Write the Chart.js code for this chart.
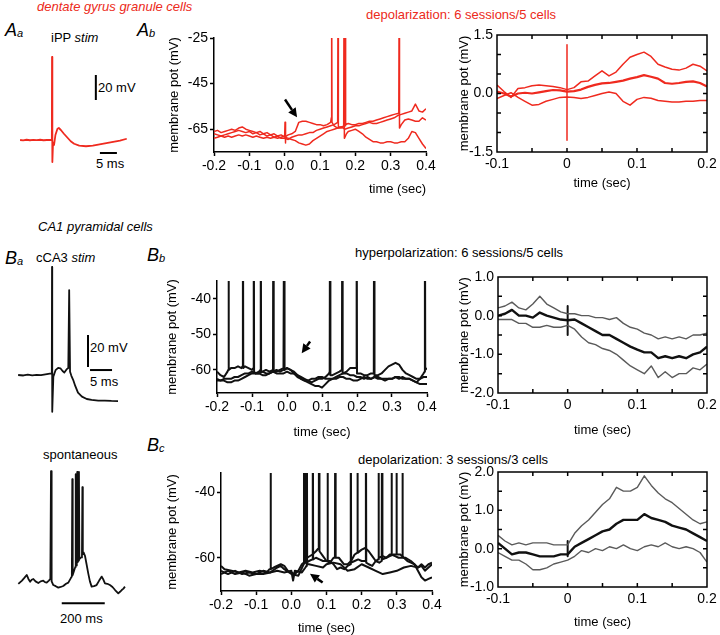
<!DOCTYPE html>
<html><head><meta charset="utf-8">
<script src="https://cdn.jsdelivr.net/npm/chart.js@4/dist/chart.umd.min.js"></script>
<style>
body{margin:0;background:#fff;width:720px;height:635px;position:relative;overflow:hidden;font-family:"Liberation Sans",Arial,Helvetica,sans-serif;}
canvas{position:absolute;}
.t{position:absolute;white-space:nowrap;font-size:13px;color:#000;line-height:1;}
.red{color:#ec2a20;}
.it{font-style:italic;}
.pl{font-size:18px;font-style:italic;}
.pl sub{font-size:11px;vertical-align:baseline;position:relative;top:1px;}
</style></head><body>
<div class="t red it" style="left:37px;top:0px;">dentate gyrus granule cells</div>
<div class="t pl" style="left:5px;top:21px;">A<sub>a</sub></div>
<div class="t pl" style="left:137px;top:21px;">A<sub>b</sub></div>
<div class="t" style="left:51px;top:31px;">iPP <span class="it">stim</span></div>
<div class="t" style="left:98px;top:81px;">20 mV</div>
<div class="t" style="left:96px;top:157px;">5 ms</div>
<div class="t red" style="left:366px;top:8px;">depolarization: 6 sessions/5 cells</div>
<div class="t it" style="left:38px;top:220px;">CA1 pyramidal cells</div>
<div class="t pl" style="left:5px;top:249px;">B<sub>a</sub></div>
<div class="t" style="left:36px;top:251px;">cCA3 <span class="it">stim</span></div>
<div class="t pl" style="left:147px;top:246px;">B<sub>b</sub></div>
<div class="t" style="left:355px;top:246px;">hyperpolarization: 6 sessions/5 cells</div>
<div class="t" style="left:90px;top:341px;">20 mV</div>
<div class="t" style="left:90px;top:375px;">5 ms</div>
<div class="t" style="left:43px;top:448px;">spontaneous</div>
<div class="t" style="left:60px;top:612px;">200 ms</div>
<div class="t pl" style="left:147px;top:436px;">B<sub>c</sub></div>
<div class="t" style="left:358px;top:453px;">depolarization: 3 sessions/3 cells</div>
<script>
// ---------------- DATA ----------------
// Ab left: three single-trial traces (time s, mV)
const abTraceA = [-0.2,-66,-0.19,-65.5,-0.18,-66.5,-0.17,-66,-0.16,-65.5,-0.15,-65,-0.14,-65.5,-0.13,-64.5,-0.12,-64,-0.11,-65,-0.1,-65.5,-0.09,-66,-0.08,-66.5,-0.07,-66,-0.06,-67,-0.05,-66.5,-0.04,-67.5,-0.03,-67,-0.02,-68,-0.01,-67.5,0,-68.5,0.01,-67.5,0.02,-67,0.03,-66,0.04,-62,0.05,-61.5,0.06,-61.5,0.07,-62,0.08,-62.5,0.09,-63,0.1,-63,0.11,-63.5,0.12,-63,0.13,-62,0.132,-60,0.133,-5,0.134,-62,0.14,-63.5,0.15,-64.5,0.16,-64,0.17,-65,0.18,-64.5,0.19,-64,0.2,-63.5,0.21,-63.5,0.22,-63,0.23,-62.5,0.24,-62,0.25,-62.5,0.26,-62.5,0.27,-62,0.28,-61.5,0.29,-61,0.3,-60.5,0.31,-60,0.32,-59,0.33,-58.5,0.34,-58,0.35,-57.5,0.36,-57,0.37,-54,0.38,-57,0.39,-57.5,0.4,-56];
const abTraceB = [-0.2,-69,-0.19,-68.5,-0.18,-68,-0.17,-67.5,-0.16,-67,-0.15,-66.5,-0.14,-66,-0.13,-65.5,-0.12,-66,-0.11,-66.5,-0.1,-66,-0.09,-67,-0.08,-66.5,-0.07,-67.5,-0.06,-67,-0.05,-68,-0.04,-67.5,-0.03,-68.5,-0.02,-68,-0.01,-69,0,-69,0.01,-69.5,0.02,-68.5,0.03,-68,0.04,-67.5,0.05,-67.5,0.06,-67,0.07,-66.5,0.08,-66.5,0.09,-65.5,0.1,-65,0.11,-64.5,0.12,-64,0.13,-63.5,0.14,-63,0.15,-62,0.151,-5,0.152,-64,0.16,-64,0.171,-63.5,0.172,-5,0.173,-63,0.18,-62.5,0.19,-63,0.2,-63,0.21,-62.5,0.22,-62.5,0.23,-62,0.24,-61.5,0.25,-61.5,0.26,-61,0.27,-60.5,0.28,-60,0.29,-59.5,0.3,-59,0.31,-58.5,0.323,-58,0.324,-5,0.325,-64.5,0.33,-63,0.34,-61,0.35,-60.5,0.36,-61,0.37,-61.5,0.38,-61.5,0.39,-60,0.4,-61];
const abTraceC = [-0.2,-67,-0.19,-67.5,-0.18,-68,-0.17,-68.5,-0.16,-68,-0.15,-68.5,-0.14,-68,-0.13,-67.5,-0.12,-68,-0.11,-67.5,-0.1,-68,-0.09,-68.5,-0.08,-68,-0.07,-68.5,-0.06,-69,-0.05,-68.5,-0.04,-69,-0.03,-68.5,-0.02,-69,-0.01,-68.5,0,-68,0.001,-62,0.002,-71,0.003,-68.5,0.01,-69,0.02,-69.5,0.03,-70,0.04,-71,0.05,-71.5,0.06,-72,0.07,-71.5,0.08,-70,0.09,-69,0.1,-68,0.11,-67,0.12,-66,0.13,-65.5,0.14,-65,0.15,-64.5,0.16,-64.5,0.167,-64,0.168,-5,0.169,-69,0.175,-67,0.18,-66,0.19,-65.5,0.2,-65,0.21,-66,0.22,-67,0.23,-68.5,0.24,-69.5,0.25,-70.5,0.26,-70.5,0.27,-71,0.28,-71,0.29,-70.5,0.3,-70.5,0.31,-71,0.32,-71,0.33,-70.5,0.34,-70.5,0.35,-69,0.36,-66,0.37,-66.5,0.38,-69,0.39,-71.5,0.4,-73.5];
const abLeftXTicks = [-0.2,-0.1,0,0.1,0.2,0.3,0.4];
const abLeftYTicks = [-65,-45,-25];
const abArrow = [[0.001,-52],[0.035,-59.8]];

// Right panels: averaged traces (mean and +/- SE) on a common time base
const tAvg = [-0.1,-0.09,-0.08,-0.07,-0.06,-0.05,-0.04,-0.03,-0.02,-0.01,0,0.01,0.02,0.03,0.04,0.05,0.06,0.07,0.08,0.09,0.1,0.11,0.12,0.13,0.14,0.15,0.16,0.17,0.18,0.19,0.2];
const abMean  = [0.05,0,-0.08,0,0.02,0,0.03,0.06,0.09,0.08,0.05,0.06,0.1,0.17,0.22,0.26,0.27,0.3,0.33,0.38,0.42,0.47,0.43,0.38,0.27,0.25,0.27,0.3,0.31,0.27,0.18];
const abUpper = [0.22,0.05,-0.1,0.13,0.15,0.2,0.22,0.2,0.18,0.15,0.1,0.15,0.3,0.32,0.45,0.58,0.45,0.55,0.75,0.93,1.0,1.06,0.95,0.75,0.68,0.62,0.6,0.65,0.75,0.7,0.58];
const abLower = [-0.13,-0.05,0.02,-0.1,-0.2,-0.3,-0.28,-0.2,-0.15,-0.1,-0.09,-0.1,-0.13,-0.1,-0.05,0,0.04,0,-0.2,-0.3,-0.15,-0.1,-0.12,-0.18,-0.2,-0.22,-0.22,-0.2,-0.2,-0.18,-0.18];
const abArtifact = [0,1.25,0,-1.2];
const bbMean  = [0,0.05,0.15,0,0,-0.05,0.08,0,-0.05,-0.1,-0.12,-0.1,-0.2,-0.3,-0.4,-0.5,-0.5,-0.6,-0.7,-0.8,-0.88,-0.95,-0.95,-1.1,-1.05,-1.1,-1.05,-1.1,-1.0,-0.95,-0.8];
const bbUpper = [0.2,0.25,0.35,0.2,0.15,0.3,0.5,0.3,0.2,0.1,0.05,0.05,0,0,-0.05,-0.05,-0.1,-0.05,-0.2,-0.3,-0.35,-0.45,-0.5,-0.6,-0.55,-0.6,-0.55,-0.6,-0.5,-0.5,-0.45];
const bbLower = [-0.1,-0.1,-0.1,-0.2,-0.2,-0.3,-0.3,-0.25,-0.3,-0.3,-0.25,-0.35,-0.55,-0.7,-0.75,-0.85,-0.9,-1.0,-1.15,-1.3,-1.4,-1.5,-1.3,-1.6,-1.45,-1.6,-1.5,-1.5,-1.35,-1.4,-1.25];
const bbArtifact = [0,0.25,0,-0.5];
const bcMean  = [0.15,0,-0.15,-0.1,-0.1,-0.15,-0.2,-0.2,-0.2,-0.15,-0.15,0.05,0.15,0.25,0.35,0.45,0.5,0.65,0.75,0.75,0.75,0.9,0.8,0.75,0.7,0.6,0.55,0.5,0.4,0.3,0.2];
const bcUpper = [0.35,0.2,0.1,0.15,0.1,0.15,0.15,0.15,0.1,0.1,0.1,0.4,0.6,0.75,0.95,1.15,1.3,1.6,1.5,1.5,1.6,1.9,1.65,1.45,1.3,1.2,1.05,0.9,0.75,0.65,0.7];
const bcLower = [-0.1,-0.2,-0.3,-0.3,-0.4,-0.55,-0.55,-0.5,-0.4,-0.35,-0.3,-0.2,-0.05,-0.1,0,-0.05,0.05,0,0.1,0,-0.05,0.05,0.1,0.05,0.15,0.05,0,0.05,0,-0.1,-0.35];
const bcArtifact = [0,0.2,0,-0.2];
const avgXTicks = [-0.1,0,0.1,0.2];
const avgXMinor = [-0.05,0,0.05,0.1,0.15];
const abAvgYTicks = [-1.5,0,1.5];
const abAvgYMinor = [-1,-0.5,0,0.5,1];
const bbAvgYTicks = [-2,-1,0,1];
const bbAvgYMinor = [-1.5,-1,-0.5,0,0.5];
const bcAvgYTicks = [-1,0,1,2];
const bcAvgYMinor = [-0.5,0,0.5,1,1.5];

// Bb left: hyperpolarization trials
const bbTrace1 = [-0.2,-60.5,-0.19,-61.5,-0.18,-62,-0.17,-60.5,-0.168,-60,-0.167,0,-0.166,-60,-0.16,-59.5,-0.15,-59.5,-0.14,-59,-0.13,-59.5,-0.127,-59,-0.126,0,-0.125,-59.5,-0.12,-59,-0.11,-59.5,-0.1,-60,-0.096,-59.5,-0.095,0,-0.094,-60.5,-0.09,-61,-0.08,-60.5,-0.076,-60,-0.075,0,-0.074,-60.5,-0.07,-60.5,-0.06,-60,-0.05,-60.5,-0.04,-60,-0.039,0,-0.038,-60.5,-0.03,-60.5,-0.02,-60,-0.01,-59.5,-0.009,-59.5,-0.008,0,-0.007,-60,0,-59.5,0.01,-60,0.02,-60.5,0.03,-61.5,0.04,-62,0.05,-62.5,0.06,-63,0.07,-63.5,0.08,-63,0.09,-62.5,0.1,-62.5,0.11,-62,0.12,-61,0.122,-60.5,0.123,0,0.124,-61.5,0.13,-61.5,0.14,-61,0.15,-60.5,0.157,-60,0.158,0,0.159,-61,0.17,-61,0.18,-61.5,0.19,-61.5,0.2,-62,0.21,-62,0.22,-62.5,0.23,-62,0.24,-62.5,0.25,-62,0.26,-62.5,0.27,-62.5,0.28,-63,0.29,-62.5,0.3,-62.5,0.31,-62,0.32,-62.5,0.33,-62,0.34,-62.5,0.35,-62.5,0.36,-63,0.37,-63.5,0.38,-62.5,0.39,-61,0.393,-60.5,0.394,0,0.395,-60,0.4,-59.5];
const bbTrace2 = [-0.2,-62.5,-0.19,-63,-0.18,-63,-0.17,-63.5,-0.16,-63.5,-0.15,-63,-0.14,-63,-0.13,-62.5,-0.12,-62,-0.11,-61.5,-0.1,-61,-0.09,-61,-0.08,-61,-0.07,-60.5,-0.06,-61,-0.05,-61,-0.04,-60.5,-0.03,-60,-0.02,-60.5,-0.01,-60,0,-59.5,0.01,-60,0.02,-61,0.03,-62,0.04,-62.5,0.05,-63,0.06,-63.5,0.07,-64,0.08,-64.5,0.09,-64.5,0.1,-65,0.11,-64,0.12,-63,0.13,-62.5,0.14,-62,0.15,-61.5,0.16,-61,0.17,-60.5,0.18,-59.5,0.19,-59.5,0.198,-59.5,0.199,0,0.2,-61,0.21,-61,0.22,-61.5,0.23,-61.5,0.24,-61,0.248,-61,0.249,0,0.25,-61.5,0.26,-61.5,0.27,-61,0.28,-60,0.29,-59,0.3,-58.5,0.31,-58,0.32,-58.5,0.33,-60,0.34,-61,0.35,-61.5,0.36,-62,0.37,-62.5,0.38,-62.5,0.39,-62,0.4,-62];
const bbTrace3 = [-0.2,-63,-0.19,-63,-0.18,-62.5,-0.17,-62.5,-0.16,-62.5,-0.15,-62,-0.14,-62,-0.13,-61.5,-0.12,-61,-0.11,-61,-0.1,-60.5,-0.09,-61,-0.08,-61,-0.07,-61.5,-0.06,-61.5,-0.05,-61,-0.04,-60.5,-0.03,-61,-0.02,-61,-0.01,-61,0,-60.5,0.01,-61,0.02,-61,0.03,-61.5,0.04,-62.5,0.05,-63,0.06,-63,0.07,-62.5,0.08,-62.5,0.09,-62,0.1,-62,0.11,-62.5,0.12,-62.5,0.13,-62.5,0.14,-62.5,0.15,-62,0.16,-62,0.17,-62.5,0.18,-62.5,0.19,-63,0.2,-63,0.21,-62.5,0.22,-62,0.23,-62.5,0.24,-62.5,0.25,-62,0.26,-62,0.27,-62.5,0.28,-62.5,0.29,-62.5,0.3,-62.5,0.31,-62,0.32,-62,0.33,-62.5,0.34,-62.5,0.35,-62.5,0.36,-63,0.37,-63.5,0.38,-64,0.39,-64,0.4,-64];
const bbLeftXTicks = [-0.2,-0.1,0,0.1,0.2,0.3,0.4];
const bbLeftYTicks = [-60,-50,-40];
const bbArrow = [[0.066,-52],[0.042,-55.3]];

// Bc left: depolarization trials
const bcTrace1 = [-0.2,-62.5,-0.19,-63.5,-0.17,-64,-0.15,-64.5,-0.13,-64,-0.11,-64.5,-0.09,-64,-0.07,-64.5,-0.062,-63.5,-0.06,-63.5,-0.059,0,-0.058,-63.5,-0.05,-63,-0.03,-62,-0.02,-62.5,-0.01,-64,0,-64.5,0.01,-65,0.02,-64,0.03,-62,0.035,-61.5,0.036,0,0.037,-61,0.045,-60,0.06,-59,0.07,-58,0.078,-57,0.079,0,0.08,-58,0.09,-59.5,0.1,-61,0.11,-61.5,0.12,-60,0.124,-60,0.125,0,0.126,-60,0.135,-60,0.15,-62,0.16,-62,0.17,-61,0.18,-59,0.187,-58.5,0.188,0,0.189,-58.5,0.2,-57.5,0.21,-57,0.22,-58,0.23,-59.5,0.24,-61,0.25,-61.5,0.257,-61,0.258,0,0.259,-60.5,0.27,-60,0.28,-59,0.284,-59,0.285,0,0.286,-59,0.295,-59.5,0.305,-60,0.315,-60,0.316,0,0.317,-60,0.325,-60,0.34,-61,0.35,-62,0.36,-63,0.37,-62.5,0.38,-64,0.39,-63,0.4,-62];
const bcTrace2 = [-0.2,-64,-0.18,-65,-0.16,-64,-0.14,-65,-0.12,-64.5,-0.1,-65,-0.08,-65,-0.06,-64.5,-0.04,-63,-0.03,-62.5,-0.02,-63.5,0,-65,0.02,-65.5,0.035,-62,0.04,-61.5,0.041,0,0.042,-61.5,0.05,-61,0.06,-60.5,0.061,0,0.062,-60.5,0.07,-60,0.08,-60.5,0.09,-61,0.102,-61,0.103,0,0.104,-61,0.11,-61,0.12,-62,0.13,-63.5,0.14,-63,0.15,-63.5,0.16,-62.5,0.168,-62,0.169,0,0.17,-61.5,0.18,-61,0.19,-60.5,0.2,-61,0.211,-61,0.212,0,0.213,-61.5,0.22,-62,0.23,-62.5,0.24,-61,0.247,-60.5,0.248,0,0.249,-60,0.26,-59.5,0.27,-60,0.28,-59.5,0.29,-59,0.298,-59,0.299,0,0.3,-59,0.31,-59,0.32,-60,0.33,-61,0.34,-61.5,0.35,-62,0.36,-64,0.37,-66,0.38,-67,0.39,-66.5,0.4,-66];
const bcTrace3 = [-0.2,-65,-0.18,-64,-0.16,-65,-0.14,-64.5,-0.12,-65.5,-0.1,-65,-0.08,-64,-0.06,-64.5,-0.04,-64,-0.02,-64.5,0,-64,0.005,-67,0.01,-64,0.03,-64.5,0.04,-63,0.043,-62.5,0.044,0,0.045,-62,0.05,-62,0.07,-62.5,0.09,-63,0.1,-62,0.12,-61.5,0.14,-62,0.16,-64,0.18,-63.5,0.2,-62,0.22,-63,0.24,-64,0.26,-65,0.28,-64.5,0.3,-64,0.32,-63,0.34,-62.5,0.36,-63,0.37,-62,0.38,-63,0.39,-62,0.4,-61.5];
const bcLeftXTicks = [-0.2,-0.1,0,0.1,0.2,0.3,0.4];
const bcLeftYTicks = [-60,-40];
const bcArrow = [[0.089,-67.6],[0.053,-64.9]];

// Example traces (time ms, mV) and their scale bars
const aaTrace = [-9.4,-70,-8.5,-70.3,-7.5,-69.8,-6.5,-70.2,-5.5,-69.9,-4.5,-70.1,-3.5,-69.8,-2.5,-70.2,-1.5,-70,-0.5,-69.9,-0.05,-70,0,-3.6,0.1,-87.6,0.3,-72,0.6,-74,1.0,-66,1.6,-61,2.0,-60.4,2.6,-62,3.5,-65,4.5,-68,5.5,-71,6.5,-73,8,-74.5,10,-75,12,-74.5,14,-73.5,16,-72.5,18,-71.5,20,-70.5,22,-69];
const aaBarV = [12.9,-38,12.9,-18];
const aaBarH = [14.1,-80.4,19.1,-80.4];
const baTrace = [-7.7,-65,-6.5,-65.3,-5.5,-64.8,-4.5,-65.2,-3.5,-64.9,-2.5,-65.1,-1.5,-64.6,-0.5,-64.2,-0.05,-64,0,2.5,0.05,-88,0.3,-66,0.8,-62,1.4,-60.5,1.9,-60.8,2.4,-62.5,2.8,-63.5,3.3,-61.5,3.7,-60.6,3.9,-11.9,4.1,-63,4.4,-65.5,4.8,-68,5.3,-72,5.9,-76,6.8,-78.5,7.9,-80,9,-80.6,10.5,-81,12,-81,13.5,-81.2,15,-81.3];
const baBarV = [8.18,-60,8.18,-40];
const baBarH = [8.64,-61.9,13.64,-61.9];
const spTrace = [-152,-65.6,-135,-63.5,-125,-62,-113,-60,-105,-62.5,-97,-64.2,-90,-63,-82,-62.5,-72,-64,-59,-65,-48,-64,-36,-63.6,-28,-64.5,-20,-64.8,-10,-63.5,-3,-62.5,0,5,3,-64,10.7,-66.3,22,-67,34,-67.9,45,-67.5,57,-66.9,70,-65.5,80.6,-64.8,91.6,-62.1,97,-61,99,0,101,-60,108,-57,113,-55,115,3.1,117,-54,120,-53,122,4.4,124,-52,128,-51,130,4.4,132,-50,140,-49,144,-48,146,-5,148,-47,152,-46,158,-48,165,-53,173,-58.8,181,-64,189,-67.3,200,-67,212,-66.3,224,-63.5,236,-61,244,-63,251,-65.2,262,-65.5,274,-66.3,286,-67.5,298,-69.4,306,-70.5,313,-71.5,321,-70.5,329,-69.4,337,-68.5,344,-67.3];
const spBar = [50,-77.7,250,-77.7];

// ---------------- DRAWING ----------------
const FONT = '"Liberation Sans", Arial, Helvetica, sans-serif';
const RED = '#ef2a1f', BLK = '#111', GRY = '#5a5a5a';
const pairs = a => { const o = []; for (let i = 0; i < a.length; i += 2) o.push({x: a[i], y: a[i + 1]}); return o; };
const zip = (t, v) => t.map((x, i) => ({x, y: v[i]}));
const ds = (data, color, width) => ({data, borderColor: color, borderWidth: width, borderJoinStyle: 'round', pointRadius: 0, tension: 0, fill: false});

function makeCanvas(left, top, w, h) {
  const c = document.createElement('canvas');
  c.width = w; c.height = h;
  c.style.left = left + 'px'; c.style.top = top + 'px';
  c.style.width = w + 'px'; c.style.height = h + 'px';
  document.body.appendChild(c);
  return c;
}

function boxPlugin(xm, ym) {
  return {id: 'boxTicks', afterDatasetsDraw(chart) {
    const {ctx, chartArea: a, scales: {x, y}} = chart;
    ctx.save(); ctx.strokeStyle = '#000'; ctx.lineWidth = 1.5;
    ctx.strokeRect(a.left, a.top, a.right - a.left, a.bottom - a.top);
    ctx.beginPath();
    for (const v of xm) { const p = x.getPixelForValue(v); ctx.moveTo(p, a.bottom); ctx.lineTo(p, a.bottom - 4); ctx.moveTo(p, a.top); ctx.lineTo(p, a.top + 4); }
    for (const v of ym) { const p = y.getPixelForValue(v); ctx.moveTo(a.left, p); ctx.lineTo(a.left + 4, p); ctx.moveTo(a.right, p); ctx.lineTo(a.right - 4, p); }
    ctx.stroke(); ctx.restore();
  }};
}

function arrowPlugin(arr) {
  return {id: 'arrow', afterDatasetsDraw(chart) {
    const {ctx, scales: {x, y}} = chart;
    const x0 = x.getPixelForValue(arr[0][0]), y0 = y.getPixelForValue(arr[0][1]);
    const x1 = x.getPixelForValue(arr[1][0]), y1 = y.getPixelForValue(arr[1][1]);
    const ang = Math.atan2(y1 - y0, x1 - x0), L = 9, W = 4.5;
    const bx = x1 - L * Math.cos(ang), by = y1 - L * Math.sin(ang);
    ctx.save(); ctx.strokeStyle = '#000'; ctx.fillStyle = '#000'; ctx.lineWidth = 2.5;
    ctx.beginPath(); ctx.moveTo(x0, y0); ctx.lineTo(bx, by); ctx.stroke();
    ctx.beginPath(); ctx.moveTo(x1, y1);
    ctx.lineTo(bx + W * Math.sin(ang), by - W * Math.cos(ang));
    ctx.lineTo(bx - W * Math.sin(ang), by + W * Math.cos(ang));
    ctx.closePath(); ctx.fill(); ctx.restore();
  }};
}

function axisPlot(p) {
  const PT = 10, PR = 14;
  const cv = makeCanvas(p.L - p.PL, p.T - PT, p.R - p.L + p.PL + PR, p.B - p.T + PT + p.PB);
  const tickFont = {family: FONT, size: 14};
  const grid = p.boxed ? {display: false, drawTicks: false}
    : {display: true, drawOnChartArea: false, drawTicks: true, tickLength: 4, tickColor: '#000', tickWidth: 1.5};
  const border = {display: !p.boxed, color: '#000', width: 1.5};
  const plugins = [];
  if (p.boxed) plugins.push(boxPlugin(p.xMinor, p.yMinor));
  if (p.arrow) plugins.push(arrowPlugin(p.arrow));
  new Chart(cv, {
    type: 'line',
    data: {datasets: p.datasets},
    options: {
      responsive: false, animation: false, events: [],
      layout: {padding: {top: PT, right: PR, left: 0, bottom: 0}},
      plugins: {legend: {display: false}, tooltip: {enabled: false}},
      scales: {
        x: {type: 'linear', min: p.xMin, max: p.xMax, grid, border,
          ticks: {font: tickFont, color: '#000', padding: p.boxed ? 4 : 2, maxRotation: 0, autoSkip: false, callback: p.xFmt},
          afterBuildTicks: s => { s.ticks = p.xTicks.map(v => ({value: v})); },
          afterFit: s => { s.height = p.PB; s.paddingLeft = 0; s.paddingRight = 0; },
          title: {display: true, text: 'time (sec)', font: {family: FONT, size: 13}, color: '#000', padding: 0, align: p.xAlign || 'center'}},
        y: {type: 'linear', min: p.yMin, max: p.yMax, grid, border,
          ticks: {font: tickFont, color: '#000', padding: p.boxed ? 4 : 2, autoSkip: false, callback: p.yFmt},
          afterBuildTicks: s => { s.ticks = p.yTicks.map(v => ({value: v})); },
          afterFit: s => { s.width = p.PL; s.paddingTop = 0; s.paddingBottom = 0; },
          title: {display: true, text: 'membrane pot (mV)', font: {family: FONT, size: 13}, color: '#000', padding: 0}}
      }
    },
    plugins
  });
}

function tracePlot(p) {
  const cv = makeCanvas(p.left, p.top, p.w, p.h);
  new Chart(cv, {type: 'line', data: {datasets: p.datasets},
    options: {responsive: false, animation: false, events: [], layout: {padding: 0},
      plugins: {legend: {display: false}, tooltip: {enabled: false}},
      scales: {x: {type: 'linear', display: false, min: p.xMin, max: p.xMax}, y: {display: false, min: p.yMin, max: p.yMax}}}});
}

const f1 = v => Number(v).toFixed(1);
const fAvgX = v => (Math.abs(v) < 1e-9 ? '0' : Number(v).toFixed(1));

// Aa
tracePlot({left: 15, top: 50, w: 125, h: 125, xMin: -10.9, xMax: 25.9, yMin: -98, yMax: 2,
  datasets: [ds(pairs(aaTrace), RED, 1.8), ds(pairs(aaBarV), '#000', 2), ds(pairs(aaBarH), '#000', 2)]});
// Ab left
axisPlot({L: 214, R: 426, T: 38, B: 152, PL: 47, PB: 45, xMin: -0.2, xMax: 0.4, yMin: -75, yMax: -25,
  xTicks: abLeftXTicks, yTicks: abLeftYTicks, xFmt: f1, yFmt: v => String(v), xAlign: 'end', arrow: abArrow,
  datasets: [ds(pairs(abTraceC), RED, 1.5), ds(pairs(abTraceB), RED, 1.5), ds(pairs(abTraceA), RED, 1.5)]});
// Ab right
axisPlot({L: 497, R: 707, T: 35, B: 152, PL: 40, PB: 39, xMin: -0.1, xMax: 0.2, yMin: -1.5, yMax: 1.5, boxed: true,
  xTicks: avgXTicks, yTicks: abAvgYTicks, xMinor: avgXMinor, yMinor: abAvgYMinor, xFmt: fAvgX, yFmt: f1,
  datasets: [ds(zip(tAvg, abUpper), RED, 1.5), ds(zip(tAvg, abLower), RED, 1.5), ds(zip(tAvg, abMean), RED, 2.2), ds(pairs(abArtifact), RED, 1.5)]});

// Ba
tracePlot({left: 10, top: 255, w: 125, h: 170, xMin: -9.55, xMax: 18.86, yMin: -96.25, yMax: 10,
  datasets: [ds(pairs(baTrace), BLK, 1.8), ds(pairs(baBarV), '#000', 2), ds(pairs(baBarH), '#000', 2)]});
// spontaneous
tracePlot({left: 10, top: 460, w: 125, h: 150, xMin: -190.7, xMax: 390.7, yMin: -81.9, yMax: 11.9,
  datasets: [ds(pairs(spTrace), BLK, 1.8), ds(pairs(spBar), '#000', 2)]});

// Bb left
axisPlot({L: 217, R: 427, T: 281, B: 393, PL: 52, PB: 47, xMin: -0.2, xMax: 0.4, yMin: -66.5, yMax: -35,
  xTicks: bbLeftXTicks, yTicks: bbLeftYTicks, xFmt: f1, yFmt: v => String(v), arrow: bbArrow,
  datasets: [ds(pairs(bbTrace3), BLK, 2), ds(pairs(bbTrace2), BLK, 2), ds(pairs(bbTrace1), BLK, 2)]});
// Bb right
axisPlot({L: 498, R: 707, T: 277, B: 393, PL: 41, PB: 45, xMin: -0.1, xMax: 0.2, yMin: -2, yMax: 1, boxed: true,
  xTicks: avgXTicks, yTicks: bbAvgYTicks, xMinor: avgXMinor, yMinor: bbAvgYMinor, xFmt: fAvgX, yFmt: f1,
  datasets: [ds(zip(tAvg, bbUpper), GRY, 1.4), ds(zip(tAvg, bbLower), GRY, 1.4), ds(zip(tAvg, bbMean), BLK, 2.4), ds(pairs(bbArtifact), BLK, 2)]});

// Bc left
axisPlot({L: 221, R: 432, T: 473, B: 591, PL: 56, PB: 45, xMin: -0.2, xMax: 0.4, yMin: -70.2, yMax: -34,
  xTicks: bcLeftXTicks, yTicks: bcLeftYTicks, xFmt: f1, yFmt: v => String(v), arrow: bcArrow,
  datasets: [ds(pairs(bcTrace3), BLK, 2), ds(pairs(bcTrace2), BLK, 2), ds(pairs(bcTrace1), BLK, 2)]});
// Bc right
axisPlot({L: 498, R: 707, T: 472, B: 587, PL: 41, PB: 43, xMin: -0.1, xMax: 0.2, yMin: -1, yMax: 2, boxed: true,
  xTicks: avgXTicks, yTicks: bcAvgYTicks, xMinor: avgXMinor, yMinor: bcAvgYMinor, xFmt: fAvgX, yFmt: f1,
  datasets: [ds(zip(tAvg, bcUpper), GRY, 1.4), ds(zip(tAvg, bcLower), GRY, 1.4), ds(zip(tAvg, bcMean), BLK, 2.4), ds(pairs(bcArtifact), BLK, 2)]});
</script>
</body></html>
